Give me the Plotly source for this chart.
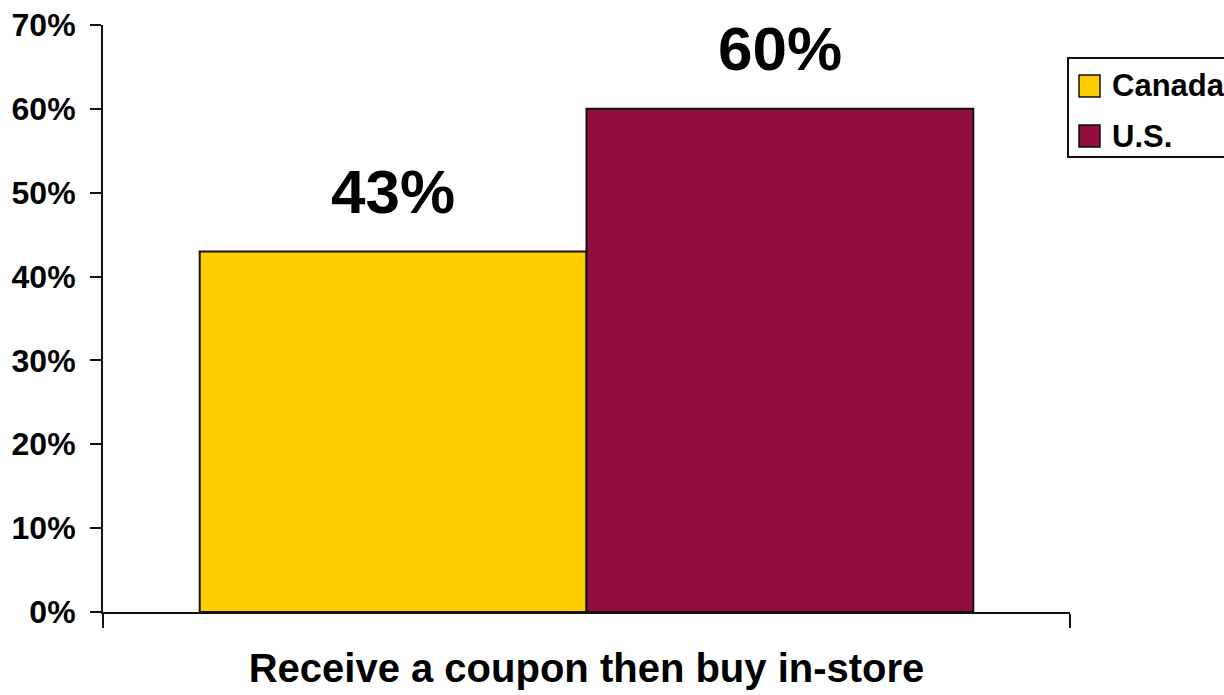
import plotly.graph_objects as go

# Survey share by country
categories = ["Receive a coupon then buy in-store"]
series_names = ["Canada", "U.S."]
series_values = [[43], [60]]
series_colors = ["#FFCC00", "#930C3E"]
y_ticks = [0, 10, 20, 30, 40, 50, 60, 70]
y_tick_labels = [f"{v}%" for v in y_ticks]

W, H = 1224, 695
ML, MR, MT, MB = 103, 154, 25, 83
FONT = "Liberation Sans, Arial, sans-serif"
PW, PH = W - ML - MR, H - MT - MB


def px_x(px):
    return (px - ML) / PW


def px_y(py):
    return (H - MB - py) / PH


fig = go.Figure()
for name, vals, color in zip(series_names, series_values, series_colors):
    fig.add_trace(go.Bar(
        name=name, x=categories, y=vals,
        marker=dict(color=color, line=dict(color="#111111", width=2)),
        showlegend=False,
    ))

# value labels above each bar
n = len(series_names)
group_w = 0.8
for i, (vals, name) in enumerate(zip(series_values, series_names)):
    offset = -group_w / 2 + group_w / n * (i + 0.5)
    for j, v in enumerate(vals):
        fig.add_annotation(
            x=j + offset, y=v, xref="x", yref="y",
            text=f"<b>{v}%</b>", showarrow=False,
            yanchor="middle", yshift=60,
            font=dict(family=FONT, size=62, color="#000000"),
        )

# legend box with swatches
shapes = [dict(type="rect", xref="paper", yref="paper",
               x0=px_x(1068), x1=px_x(1260), y0=px_y(157), y1=px_y(58),
               line=dict(color="#111111", width=2), fillcolor="white")]
legend_rows = [86, 136]
for name, color, cy in zip(series_names, series_colors, legend_rows):
    shapes.append(dict(type="rect", xref="paper", yref="paper",
                       x0=px_x(1079), x1=px_x(1100),
                       y0=px_y(cy + 11), y1=px_y(cy - 11),
                       line=dict(color="#111111", width=1.5), fillcolor=color))
    fig.add_annotation(
        x=px_x(1110), y=px_y(cy), xref="paper", yref="paper",
        text=f"<b>{name}</b>", showarrow=False,
        xanchor="left", yanchor="middle",
        font=dict(family=FONT, size=31, color="#000000"),
    )

fig.update_layout(
    width=W, height=H,
    margin=dict(l=ML, r=MR, t=MT, b=MB, pad=0, autoexpand=False),
    paper_bgcolor="white", plot_bgcolor="white",
    barmode="group", bargap=0.2, bargroupgap=0,
    shapes=shapes,
    showlegend=False,
    font=dict(family=FONT, color="#000000"),
)
fig.update_xaxes(
    automargin=False,
    showline=True, linecolor="#111111", linewidth=2,
    ticks="outside", tickson="boundaries", ticklen=14, tickwidth=2,
    tickcolor="#111111", showgrid=False, zeroline=False,
    tickfont=dict(family=FONT, size=40, color="#000000"),
    tickprefix="<b>", ticksuffix="</b>",
    ticklabelstandoff=20,
)
fig.update_yaxes(
    automargin=False,
    range=[0, 70], tickvals=y_ticks, ticktext=[f"<b>{t}</b>" for t in y_tick_labels],
    showline=True, linecolor="#111111", linewidth=2,
    ticks="outside", ticklen=11, tickwidth=2, tickcolor="#111111",
    showgrid=False, zeroline=False,
    tickfont=dict(family=FONT, size=32, color="#000000"),
    ticklabelstandoff=8,
)

fig.write_html("out.html")
